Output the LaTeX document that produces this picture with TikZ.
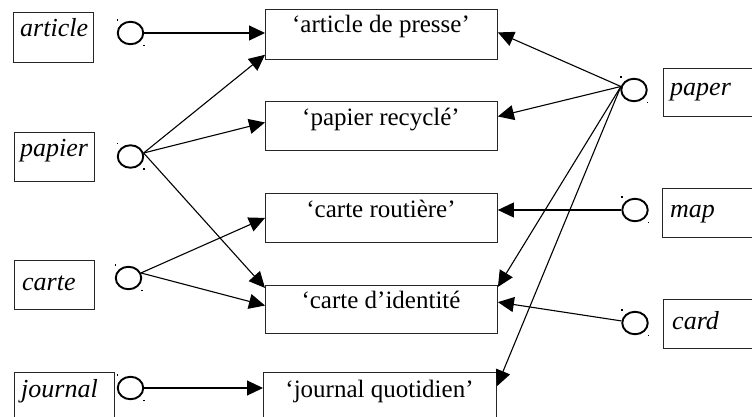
\documentclass[tikz,border=0pt]{standalone}
\usepackage{fontspec}
\setmainfont{Liberation Serif}
\usetikzlibrary{arrows.meta,shapes.geometric,calc}
\begin{document}
\begin{tikzpicture}[x=1pt,y=-1pt,
 box/.style={draw=black!85,line width=0.9pt,inner sep=0,anchor=north west},
 lbl/.style={anchor=base west,inner sep=0,font=\fontsize{26}{30}\selectfont\itshape},
 mlbl/.style={anchor=base,inner sep=0,font=\fontsize{25}{30}\selectfont},
 port/.style={draw,ellipse,line width=1.9pt,minimum width=25.5pt,minimum height=22.5pt,inner sep=0},
 arr/.style={line width=1.1pt,-{Triangle[length=16pt,width=15pt]}},
 handle/.style={fill,inner sep=0,minimum size=1.8pt}
]
\useasboundingbox (0,0) rectangle (752,417);

% left word boxes
\node[box,minimum width=80pt,minimum height=50pt] (bArticle) at (13,12) {};
\node[lbl] (tArticle) at (20,37) {article};
\node[box,minimum width=80pt,minimum height=49pt] (bPapier) at (14,132) {};
\node[lbl] (tPapier) at (20,157) {papier};
\node[box,minimum width=80pt,minimum height=49pt] (bCarte) at (14,260) {};
\node[lbl] (tCarte) at (22,290) {carte};
\node[box,minimum width=100pt,minimum height=50pt] (bJournal) at (14,372) {};
\node[lbl] (tJournal) at (21,397) {journal};

% right word boxes
\node[box,minimum width=95pt,minimum height=48pt] (bPaper) at (663,68) {};
\node[lbl] (tPaper) at (670,96) {paper};
\node[box,minimum width=95pt,minimum height=49pt] (bMap) at (662,188) {};
\node[lbl] (tMap) at (670,217) {map};
\node[box,minimum width=95pt,minimum height=49pt] (bCard) at (663,299) {};
\node[lbl] (tCard) at (672,329) {card};

% middle sense boxes
\node[box,minimum width=232pt,minimum height=50pt] (presse) at (265,9) {};
\node[mlbl] (tPresse) at (381,33) {‘article de presse’};
\node[box,minimum width=232pt,minimum height=49pt] (recycle) at (265,101) {};
\node[mlbl] (tRecycle) at (381,125) {‘papier recyclé’};
\node[box,minimum width=232pt,minimum height=49pt] (routiere) at (265,193) {};
\node[mlbl] (tRoutiere) at (381,217) {‘carte routière’};
\node[box,minimum width=232pt,minimum height=48pt] (identite) at (265,285) {};
\node[mlbl] (tIdentite) at (381,308) {‘carte d’identité};
\node[box,minimum width=233pt,minimum height=50pt] (quotidien) at (263,372) {};
\node[mlbl] (tQuotidien) at (379.5,397) {‘journal quotidien’};

% ports
\node[port] (cArticle) at (130.5,33) {};
\node[port] (cPapier) at (130.5,156.5) {};
\node[port] (cCarte) at (128.5,278) {};
\node[port] (cJournal) at (130.5,388) {};
\node[port] (cPaper) at (634,90) {};
\node[port] (cMap) at (635,210) {};
\node[port] (cCard) at (635,323) {};

% handles
\foreach \n in {cArticle,cPapier,cCarte,cJournal,cPaper,cMap,cCard}{
  \node[handle] (h1\n) at ($(\n.center)+(-13,-13)$) {};
  \node[handle] (h2\n) at ($(\n.center)+(13.5,12.5)$) {};
}

% connectors left
\draw[arr] (cArticle) -- (cArticle -| presse.west);
\draw[arr] (cPapier.15) -- ($(presse.north west)!0.9!(presse.south west)$);
\draw[arr] (cPapier.15) -- ($(recycle.north west)!0.43!(recycle.south west)$);
\draw[arr] (cPapier.15) -- ($(identite.north west)!0.06!(identite.south west)$);
\draw[arr] (cCarte.22) -- (routiere.west);
\draw[arr] (cCarte.22) -- ($(identite.north west)!0.42!(identite.south west)$);
\draw[arr] (cJournal) -- (cJournal -| quotidien.west);

% connectors right
\draw[arr] (cPaper.165) -- ($(presse.north east)!0.46!(presse.south east)$);
\draw[arr] (cPaper.165) -- ($(recycle.north east)!0.31!(recycle.south east)$);
\draw[arr] (cPaper.165) -- ($(identite.north east)!0.04!(identite.south east)$);
\draw[arr] (cPaper.165) -- ($(quotidien.north east)!0.28!(quotidien.south east)$);
\draw[arr] (cMap) -- (cMap -| routiere.east);
\draw[arr] (cCard) -- ($(identite.north east)!0.35!(identite.south east)$);
\end{tikzpicture}
\end{document}
